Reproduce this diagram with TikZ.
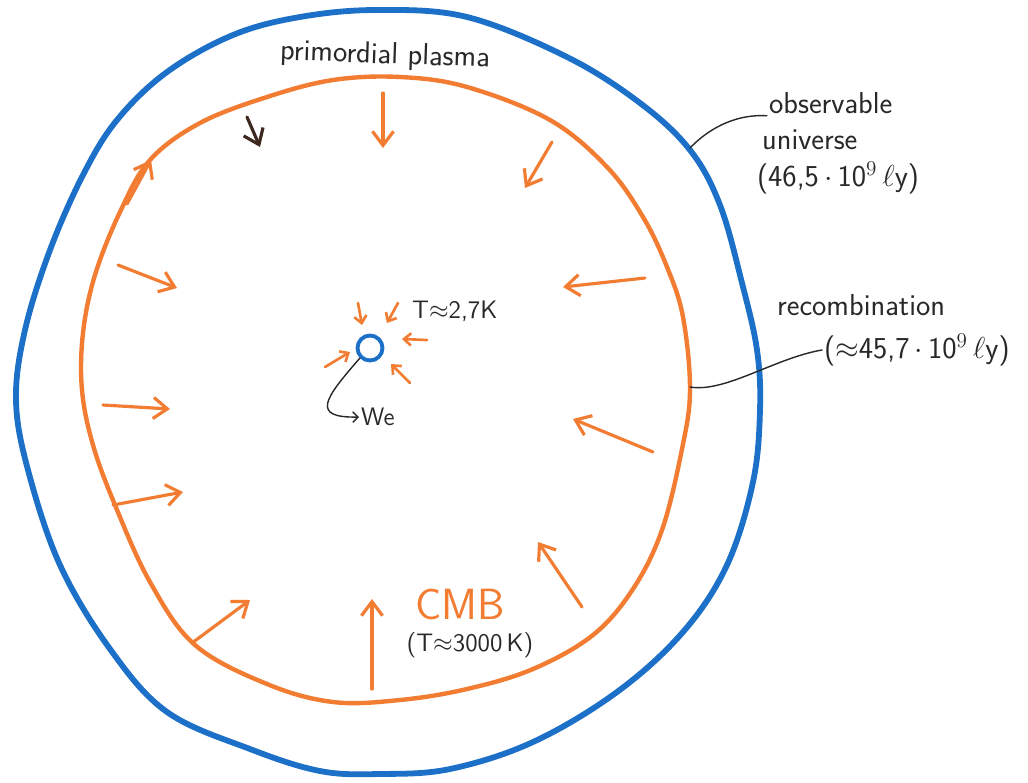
\documentclass[tikz,border=0pt]{standalone}
\usepackage{fontspec}
\usetikzlibrary{arrows.meta}
\definecolor{skyblue}{RGB}{28,112,200}
\definecolor{cmborange}{RGB}{242,125,50}
\definecolor{pen}{RGB}{40,40,40}
\definecolor{darkpen}{RGB}{60,40,30}
\tikzset{
  ray/.style={cmborange, line width=1.8pt, line cap=round,
    -{Straight Barb[length=8pt,width=12pt,line width=1.8pt]}},
  smallray/.style={ray, -{Straight Barb[length=4pt,width=7pt,line width=1.5pt]}, line width=1.5pt},
  pointer/.style={pen, line width=0.8pt, line cap=round},
  hand/.style={font=\LARGE\sffamily, text=pen, inner sep=1pt},
}
\begin{document}
\begin{tikzpicture}[x=0.02cm,y=-0.02cm]
\useasboundingbox[fill=white] (0,0) rectangle (1028,782);
% observable universe
\draw[skyblue, line width=3.3pt] plot[smooth cycle, tension=0.6] coordinates {
  (377,10) (467,17) (567,57) (640,103) (690,150) (720,205) (742,283) (757,350) (760,410)
  (753,482) (727,565) (683,632) (617,692) (533,742) (450,769) (380,774) (320,771)
  (250,749) (167,712) (110,649) (60,565) (28,470) (16,400) (25,330)
  (50,250) (83,175) (117,120) (167,72) (233,35) (300,17)};
% recombination surface
\draw[cmborange, line width=2.5pt] plot[smooth cycle, tension=0.6] coordinates {
  (400,77) (467,87) (550,120) (607,167) (643,217) (667,267) (683,317)
  (690,390) (682,449) (662,530) (633,589) (593,635) (533,669) (467,689)
  (400,700) (333,702) (267,684) (195,645) (150,582) (115,505) (93,445)
  (82,390) (83,333) (95,275) (120,212) (150,160) (200,123) (267,97) (333,80)};
% light coming in from the last scattering surface
\foreach \xa/\ya/\xb/\yb in {383/93/383/148, 552/142/525/188, 645/278/563/287,
  653/452/573/419, 582/607/538/542, 372/689/372/599, 192/643/250/600,
  113/505/183/492, 103/405/170/409, 118/265/177/288, 127/204/151/160}
  \draw[ray] (\xa,\ya) -- (\xb,\yb);
\draw[ray, darkpen] (247,117) -- (260,147);
% we
\node[draw=skyblue, line width=2.2pt, circle, minimum size=0.5cm, inner sep=0pt] (we) at (370,348) {};
\foreach \xa/\ya/\xb/\yb in {358/303/362/325, 398/303/387/323, 427/340/402/339,
  410/383/391/364, 325/367/350/352}
  \draw[smallray] (\xa,\ya) -- (\xb,\yb);
\node[hand, font=\Large\sffamily, anchor=west] (tnow) at (410,311) {T$\approx$2,7K};
\node[hand, font=\Large\sffamily, anchor=west] (welabel) at (359,417) {We};
\draw[pointer, -{Straight Barb[length=3pt,width=6pt]}] (we.south west) .. controls (325,398) and (310,418) .. (welabel.west);
% labels
\node[hand, rotate=-2] (plasma) at (385,56) {primordial plasma};
\node[hand, anchor=west] (obs) at (767,103) {observable};
\node[hand, anchor=west] (obsuni) at (760,140) {universe};
\node[hand, anchor=west] (obssize) at (755,178) {(46,5\,$\cdot$\,10$^9\,\ell$y)};
\coordinate (obsedge) at (690,148);
\draw[pointer] (obsedge) .. controls (712,125) and (740,114) .. (obs.south west);
\node[hand, anchor=west] (rec) at (775,305) {recombination};
\node[hand, anchor=west] (recsize) at (822,350) {($\approx$45,7\,$\cdot$\,10$^9\,\ell$y)};
\coordinate (recedge) at (690,387);
\draw[pointer] (recedge) .. controls (725,393) and (775,358) .. (recsize.west);
\node[font=\Huge\sffamily, text=cmborange] (cmb) at (460,604) {CMB};
\node[hand, font=\Large\sffamily] (tcmb) at (470,645) {(T$\approx$3000\,K)};
\end{tikzpicture}
\end{document}
